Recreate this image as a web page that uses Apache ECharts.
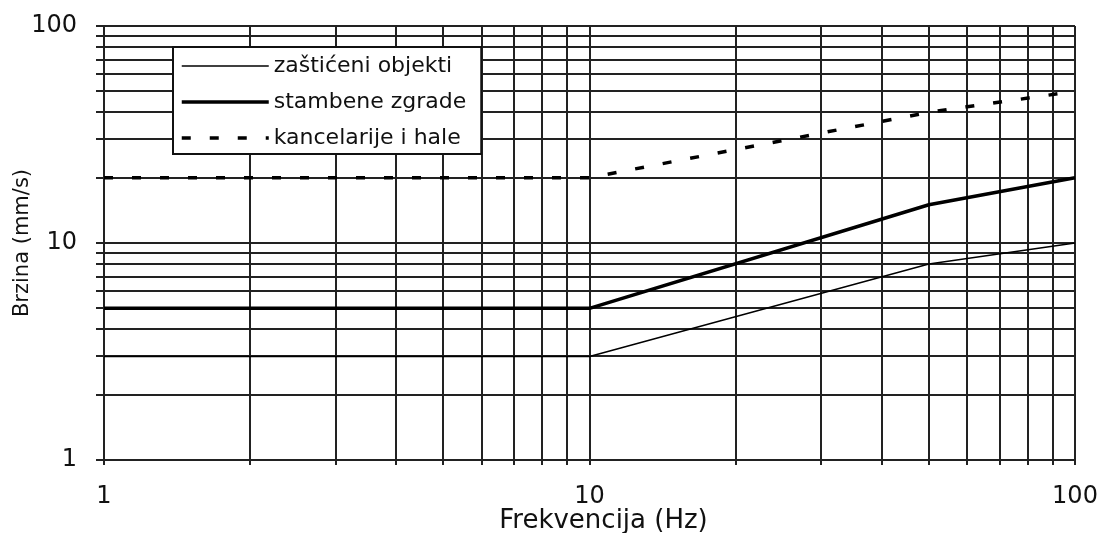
<!DOCTYPE html>
<html><head><meta charset="utf-8">
<script src="https://cdn.jsdelivr.net/npm/echarts@6/dist/echarts.min.js"></script>
<style>html,body{margin:0;padding:0;background:#fff}#c{width:1103px;height:533px}</style>
</head><body><div id="c"></div>
<script>
// ---- data ----
const frequencies = [1, 10, 50, 100];
const zasticeniObjekti = [3, 3, 8, 10];
const stambeneZgrade = [5, 5, 15, 20];
const kancelarijeIHale = [20, 20, 40, 50];
const seriesNames = ['zaštićeni objekti', 'stambene zgrade', 'kancelarije i hale'];
const minorGridValues = [2, 3, 4, 5, 6, 7, 8, 9, 20, 30, 40, 50, 60, 70, 80, 90];
const axisMin = 1, axisMax = 100;
const xAxisName = 'Frekvencija (Hz)';
const yAxisName = 'Brzina (mm/s)';

const FONT = 'DejaVu Sans';
const gridColor = '#222';
const textColor = '#111';

function pairs(xs, ys) { return xs.map((x, i) => [x, ys[i]]); }

function vLine(params, api) {
  const v = api.value(0);
  const a = api.coord([v, axisMax]);
  const b = api.coord([v, axisMin]);
  const x = Math.round(a[0]);
  return { type: 'line', silent: true,
    shape: { x1: x, y1: Math.round(a[1]), x2: x, y2: Math.round(b[1]) + 5 },
    style: { stroke: gridColor, lineWidth: 2 } };
}
function hLine(params, api) {
  const v = api.value(1);
  const a = api.coord([axisMin, v]);
  const b = api.coord([axisMax, v]);
  const y = Math.round(a[1]);
  return { type: 'line', silent: true,
    shape: { x1: Math.round(a[0]) - 8, y1: y, x2: Math.round(b[0]), y2: y },
    style: { stroke: gridColor, lineWidth: 2 } };
}

const axisCommon = {
  type: 'log', logBase: 10, min: axisMin, max: axisMax,
  nameLocation: 'middle', nameMoveOverlap: false,
  nameTextStyle: { fontFamily: FONT, color: textColor },
  axisLine: { show: true, lineStyle: { color: gridColor, width: 2 } },
  axisTick: { show: true, lineStyle: { color: gridColor, width: 2 } },
  axisLabel: { fontFamily: FONT, fontSize: 24, color: textColor },
  splitLine: { show: true, lineStyle: { color: gridColor, width: 2 } },
  minorTick: { show: false }, minorSplitLine: { show: false }
};

const chart = echarts.init(document.getElementById('c'), null, { renderer: 'canvas' });
chart.setOption({
  animation: false,
  backgroundColor: '#fff',
  grid: { left: 104, right: 28, top: 26, bottom: 73, containLabel: false, outerBoundsMode: 'none' },
  xAxis: Object.assign({}, axisCommon, {
    name: xAxisName, nameGap: 48,
    nameTextStyle: { fontFamily: FONT, color: textColor, fontSize: 26, padding: [0, 0, 0, 28] },
    axisTick: { show: true, length: 5, lineStyle: { color: gridColor, width: 2 } },
    axisLabel: { fontFamily: FONT, fontSize: 24, color: textColor, margin: 25 }
  }),
  yAxis: Object.assign({}, axisCommon, {
    name: yAxisName, nameGap: 71,
    nameTextStyle: { fontFamily: FONT, color: textColor, fontSize: 21 },
    axisTick: { show: true, length: 8, lineStyle: { color: gridColor, width: 2 } },
    axisLabel: { fontFamily: FONT, fontSize: 24, color: textColor, margin: 27 }
  }),
  legend: {
    data: seriesNames,
    orient: 'vertical', left: 173, top: 47,
    itemWidth: 87, itemHeight: 14, itemGap: 14,
    padding: [8, 15, 5, 7],
    borderColor: '#111', borderWidth: 2, backgroundColor: '#fff',
    itemStyle: { opacity: 0 },
    lineStyle: { width: 'inherit' },
    textStyle: { fontFamily: FONT, fontSize: 22, color: textColor },
    z: 10
  },
  series: [
    { type: 'custom', name: 'gridV', coordinateSystem: 'cartesian2d', clip: false, z: 1, silent: true,
      encode: { x: 0, y: 1 }, renderItem: vLine, data: minorGridValues.map(v => [v, axisMin]) },
    { type: 'custom', name: 'gridH', coordinateSystem: 'cartesian2d', clip: false, z: 1, silent: true,
      encode: { x: 0, y: 1 }, renderItem: hLine, data: minorGridValues.map(v => [axisMin, v]) },
    { type: 'line', name: seriesNames[0], data: pairs(frequencies, zasticeniObjekti), symbol: 'none', z: 3,
      lineStyle: { color: '#000', width: 1.5 }, itemStyle: { color: '#000' } },
    { type: 'line', name: seriesNames[1], data: pairs(frequencies, stambeneZgrade), symbol: 'none', z: 3,
      lineStyle: { color: '#000', width: 3.5 }, itemStyle: { color: '#000' } },
    { type: 'line', name: seriesNames[2], data: pairs(frequencies, kancelarijeIHale), symbol: 'none', z: 3,
      lineStyle: { color: '#000', width: 3.5, type: [9, 19] }, itemStyle: { color: '#000' } }
  ]
});
</script>
</body></html>
